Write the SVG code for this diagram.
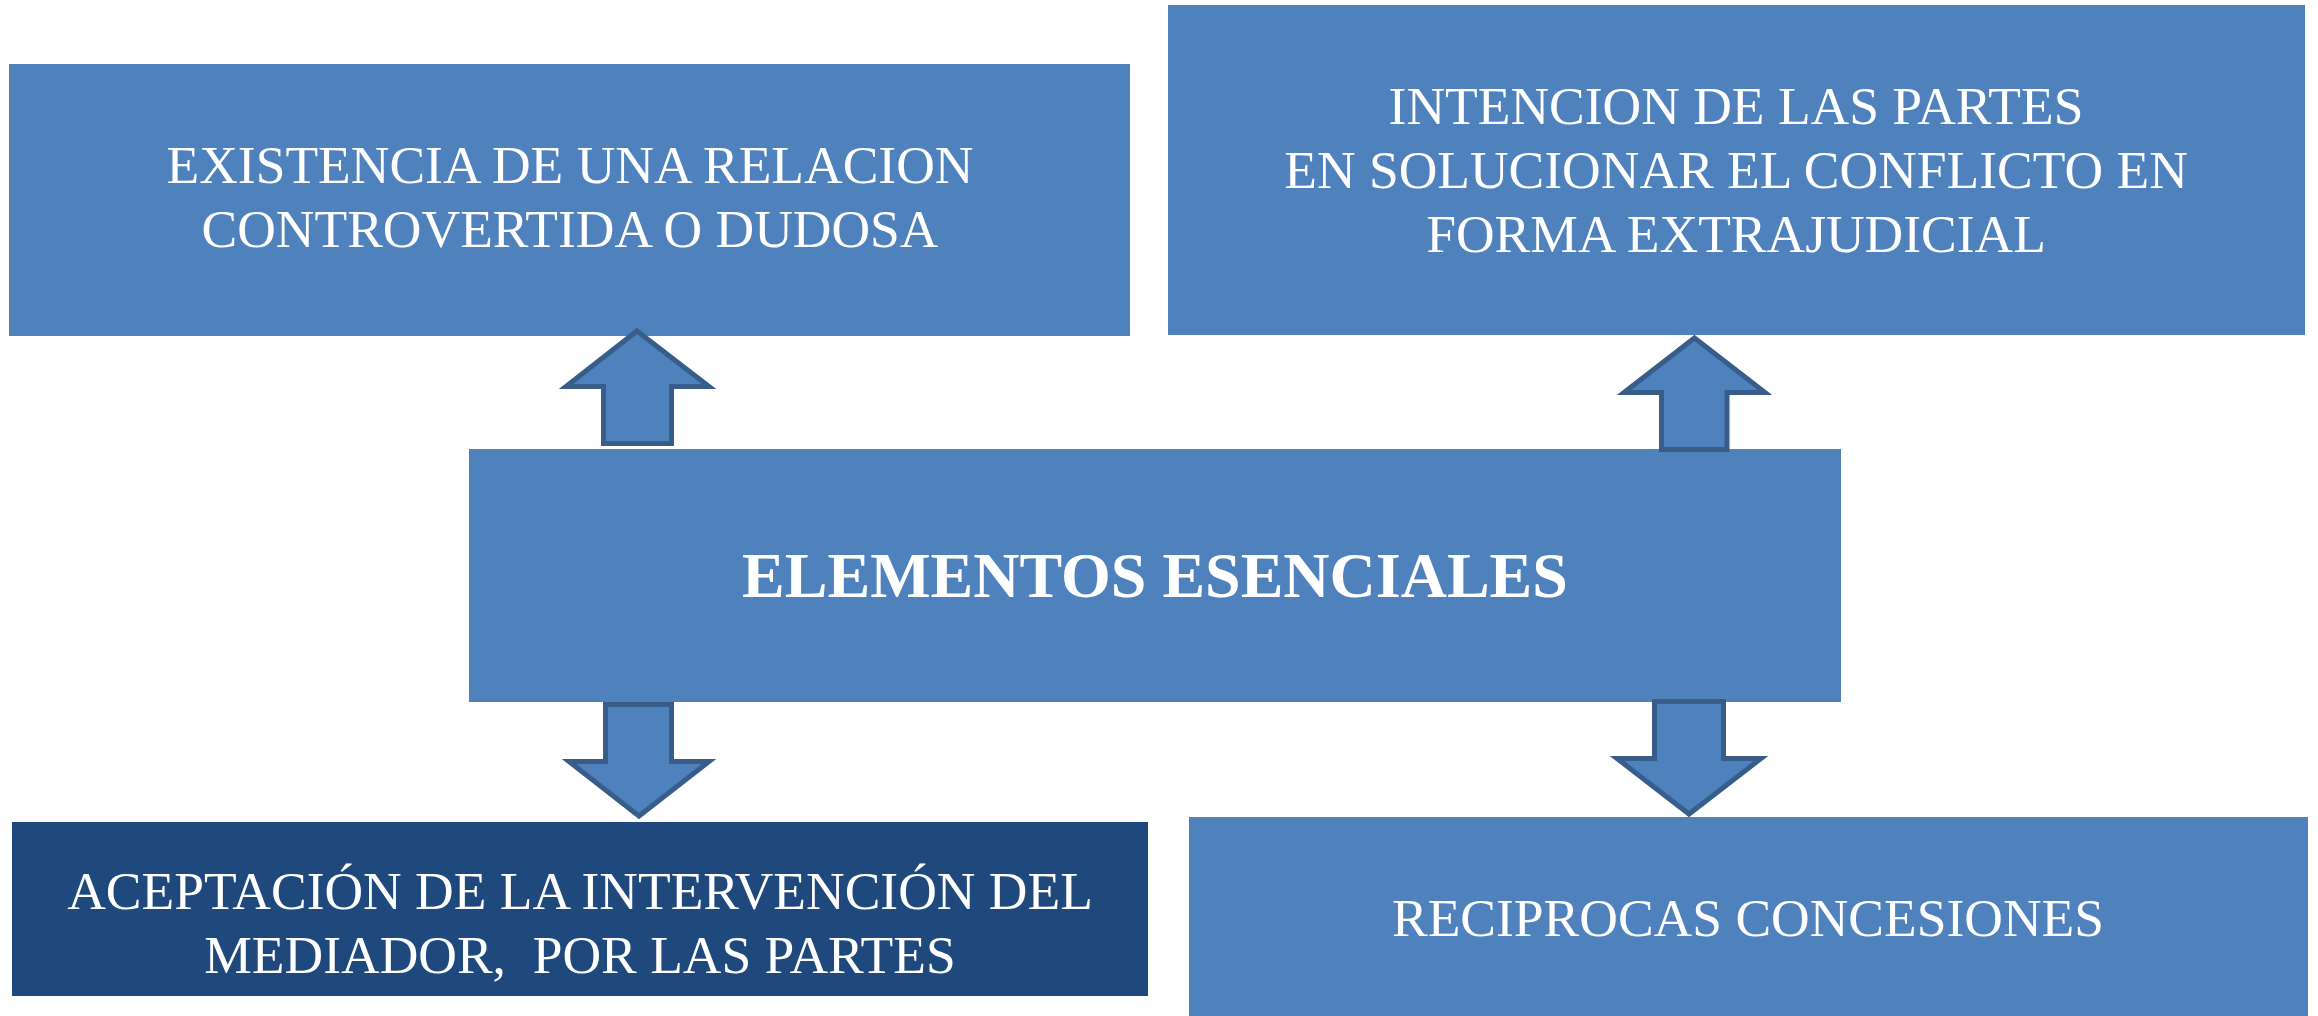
<svg xmlns="http://www.w3.org/2000/svg" width="2318" height="1016" viewBox="0 0 2318 1016">
<style>
.box{fill:#4f81bd;stroke:none}
.dark{fill:#1f497d;stroke:none}
.t{font-family:"Liberation Serif","Times New Roman",serif;font-size:53.5px;fill:#ffffff;text-anchor:middle}
.tb{font-family:"Liberation Serif","Times New Roman",serif;font-size:64px;font-weight:bold;fill:#ffffff;text-anchor:middle}
.arr{fill:#4f81bd;stroke:#385d8a;stroke-width:5;stroke-linejoin:miter}
</style>
<rect width="2318" height="1016" fill="#ffffff"/>
<g id="node-existencia">
<rect class="box" x="9" y="64" width="1121" height="272"/>
<text class="t" x="570" y="183">EXISTENCIA DE UNA RELACION</text>
<text class="t" x="570" y="247">CONTROVERTIDA O DUDOSA</text>
</g>
<g id="node-intencion">
<rect class="box" x="1168" y="5" width="1137" height="330"/>
<text class="t" x="1736" y="124">INTENCION DE LAS PARTES</text>
<text class="t" x="1736" y="188">EN SOLUCIONAR EL CONFLICTO EN</text>
<text class="t" x="1736" y="252">FORMA EXTRAJUDICIAL</text>
</g>
<g id="node-elementos">
<rect class="box" x="469" y="449" width="1372" height="253"/>
<text class="tb" x="1155" y="597">ELEMENTOS ESENCIALES</text>
</g>
<g id="node-aceptacion">
<rect class="dark" x="12" y="822" width="1136" height="174"/>
<text class="t" x="580" y="909">ACEPTACIÓN DE LA INTERVENCIÓN DEL</text>
<text class="t" x="580" y="973" xml:space="preserve">MEDIADOR,  POR LAS PARTES</text>
</g>
<g id="node-reciprocas">
<rect class="box" x="1189" y="817" width="1119" height="199"/>
<text class="t" x="1748" y="936">RECIPROCAS CONCESIONES</text>
</g>
<g id="connectors">
<polygon class="arr" points="637,331 709,386.5 671.5,386.5 671.5,443.5 603.5,443.5 603.5,386.5 566,386.5"/>
<polygon class="arr" points="1694.5,338 1765,392.5 1727,392.5 1727,449.5 1661.5,449.5 1661.5,392.5 1624,392.5"/>
<polygon class="arr" points="605.5,704.5 671.5,704.5 671.5,761.5 709,761.5 639,816 569,761.5 605.5,761.5"/>
<polygon class="arr" points="1654.5,701.5 1723.5,701.5 1723.5,758.5 1761,758.5 1689,814 1617,758.5 1654.5,758.5"/>
</g>
</svg>
